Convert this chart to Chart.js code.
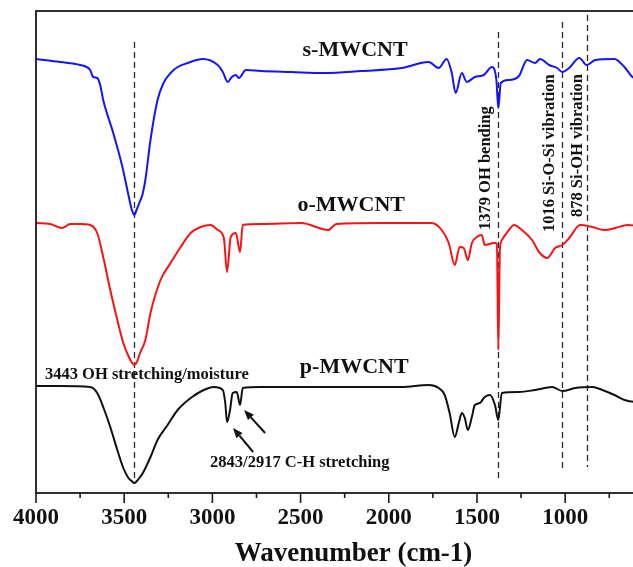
<!DOCTYPE html>
<html>
<head>
<meta charset="utf-8">
<title>FTIR spectra of MWCNT samples</title>
<script src="https://cdn.jsdelivr.net/npm/chart.js@4.4.1/dist/chart.umd.min.js"></script>
<style>
  html, body { margin: 0; padding: 0; background: #fff; overflow: hidden; }
  #wrap { width: 633px; height: 567px; overflow: hidden; }
</style>
</head>
<body>
<div id="wrap"><canvas id="ftir" width="690" height="567"></canvas></div>
<script>
// ---- spectra (wavenumber in cm-1, transmittance in arbitrary units, offset per sample) ----
const sWave = [4000, 3863, 3750, 3693, 3676, 3653, 3636, 3619, 3562, 3510,
               3476, 3458, 3443, 3430, 3410, 3397, 3380, 3351, 3311, 3277, 3237, 3197,
               3140, 3055, 2970, 2941, 2913, 2890, 2867, 2850, 2810, 2725,
               2554, 2366, 2156, 1928, 1774, 1717, 1672, 1643, 1621, 1586,
               1558, 1512, 1461, 1416, 1390, 1379, 1365, 1319, 1262, 1216,
               1171, 1142, 1091, 1046, 1016, 977, 920, 878, 829, 721,
               664, 619, 560, 402];
const sTrans = [434, 431, 428, 423, 416, 415, 408, 393, 360, 326,
                298, 284, 278, 283, 292, 298, 313, 353, 393, 410, 420, 426,
                430, 434, 428, 421, 411, 416, 418, 415, 423, 422,
                421, 420, 422, 425, 431, 425, 434, 420, 400, 420,
                411, 416, 418, 426, 413, 385, 410, 413, 417, 433,
                430, 434, 428, 425, 421, 425, 435, 428, 433, 434,
                426, 416, 411, 403];

const oWave = [4000, 3920, 3852, 3806, 3750, 3693, 3653, 3619, 3579, 3539,
               3505, 3476, 3458, 3443, 3428, 3410, 3380, 3351, 3294, 3237, 3180, 3123,
               3066, 3010, 2970, 2935, 2917, 2896, 2867, 2843, 2828, 2725,
               2497, 2343, 2298, 2042, 1757, 1700, 1660, 1626, 1598, 1575,
               1552, 1529, 1501, 1473, 1456, 1404, 1387, 1379, 1370, 1359,
               1319, 1290, 1245, 1188, 1148, 1102, 1057, 1016, 977, 915,
               846, 778, 715, 647, 560, 402];
const oTrans = [270, 269, 265, 269, 269, 268, 260, 236, 203, 173,
                150, 137, 131, 128, 131, 140, 153, 180, 213, 230, 246, 260,
                266, 268, 263, 255, 221, 256, 260, 241, 268, 269,
                270, 263, 269, 270, 270, 263, 250, 228, 246, 245,
                233, 250, 256, 258, 248, 250, 249, 143, 243, 253,
                263, 268, 263, 253, 241, 235, 245, 248, 255, 268,
                266, 263, 265, 268, 267, 267];

const pWave = [4000, 3863, 3693, 3653, 3619, 3579, 3539, 3505, 3476, 3458, 3443,
               3428, 3410, 3391, 3351, 3311, 3254, 3197, 3123, 3049, 2992, 2941,
               2927, 2917, 2900, 2885, 2862, 2843, 2828, 2725, 2383, 1928,
               1774, 1717, 1683, 1655, 1626, 1603, 1586, 1569, 1552, 1529,
               1512, 1484, 1456, 1427, 1398, 1379, 1359, 1262, 1171, 1074,
               1016, 943, 846, 789, 721, 664, 602, 402];
const pTrans = [107, 107, 106, 100, 86, 66, 43, 25, 15, 12, 10,
                12, 16, 21, 36, 53, 68, 83, 95, 103, 106, 103,
                90, 71, 83, 100, 101, 88, 105, 106, 106, 106,
                108, 105, 98, 80, 56, 70, 80, 75, 63, 76,
                88, 90, 96, 98, 88, 73, 100, 101, 103, 106,
                102, 105, 106, 103, 98, 93, 91, 90];

// axis ticks every 250 cm-1, labelled every 500
const tickValues = [4000, 3750, 3500, 3250, 3000, 2750, 2500, 2250, 2000,
                    1750, 1500, 1250, 1000, 750, 500];

// assigned bands: dashed guide lines
const bandWave = [3443, 1379, 1016, 878];

// ---- annotation layout (x in cm-1, y in a.u.) ----
const SERIF = "'Liberation Serif', 'Times New Roman', serif";
const bandGuides = [
  { wn: bandWave[0], from: 451, to: 10 },
  { wn: bandWave[1], from: 461, to: 13 },
  { wn: bandWave[2], from: 471, to: 21 },
  { wn: bandWave[3], from: 478, to: 26 }
];
const sampleNames = [
  { text: 's-MWCNT', wn: 2191, y: 443 },
  { text: 'o-MWCNT', wn: 2213, y: 288 },
  { text: 'p-MWCNT', wn: 2196, y: 126 }
];
const flatNotes = [
  { text: '3443 OH stretching/moisture', wn: 3949, y: 118 },
  { text: '2843/2917 C-H stretching', wn: 3013, y: 30 }
];
const upNotes = [
  { text: '1379 OH bending', wn: 1453, y: 263 },
  { text: '1016 Si-O-Si vibration', wn: 1085, y: 261 },
  { text: '878 Si-OH vibration', wn: 926, y: 276 }
];
const arrows = [
  { x0: 2769, y0: 41, x1: 2883, y1: 65 },
  { x0: 2701, y0: 60, x1: 2820, y1: 83 }
];

function toPoints(wave, vals) {
  return wave.map((w, i) => ({ x: w, y: vals[i] }));
}

const ftirDecor = {
  id: 'ftirDecor',
  beforeDatasetsDraw(chart) {
    const { ctx, scales: { x, y } } = chart;
    ctx.save();
    ctx.strokeStyle = '#2a2a2a';
    ctx.lineWidth = 1.3;
    ctx.setLineDash([6, 4]);
    bandGuides.forEach(g => {
      const px = Math.round(x.getPixelForValue(g.wn)) + 0.5;
      ctx.beginPath();
      ctx.moveTo(px, y.getPixelForValue(g.from));
      ctx.lineTo(px, y.getPixelForValue(g.to));
      ctx.stroke();
    });
    ctx.restore();
  },
  afterDraw(chart) {
    const { ctx, chartArea: a, scales: { x, y } } = chart;
    ctx.save();

    // frame + outward tick marks
    ctx.strokeStyle = '#1a1a1a';
    ctx.lineWidth = 1.8;
    ctx.strokeRect(a.left, a.top, a.right - a.left, a.bottom - a.top);
    ctx.lineWidth = 1.6;
    tickValues.forEach(v => {
      const px = x.getPixelForValue(v);
      const len = v % 500 === 0 ? 10 : 5;
      ctx.beginPath();
      ctx.moveTo(px, a.bottom);
      ctx.lineTo(px, a.bottom + len);
      ctx.stroke();
    });

    ctx.fillStyle = '#111';
    ctx.textBaseline = 'middle';

    ctx.font = 'bold 22px ' + SERIF;
    ctx.textAlign = 'center';
    sampleNames.forEach(n => ctx.fillText(n.text, x.getPixelForValue(n.wn), y.getPixelForValue(n.y)));

    ctx.font = 'bold 16.5px ' + SERIF;
    ctx.textAlign = 'left';
    flatNotes.forEach(n => ctx.fillText(n.text, x.getPixelForValue(n.wn), y.getPixelForValue(n.y)));

    upNotes.forEach(n => {
      ctx.save();
      ctx.translate(x.getPixelForValue(n.wn), y.getPixelForValue(n.y));
      ctx.rotate(-Math.PI / 2);
      ctx.fillText(n.text, 0, 0);
      ctx.restore();
    });

    // arrows pointing at the C-H doublet
    ctx.strokeStyle = '#111';
    ctx.lineWidth = 2;
    arrows.forEach(ar => {
      const x0 = x.getPixelForValue(ar.x0), y0 = y.getPixelForValue(ar.y0);
      const x1 = x.getPixelForValue(ar.x1), y1 = y.getPixelForValue(ar.y1);
      const ang = Math.atan2(y1 - y0, x1 - x0);
      const head = 10, half = 4;
      const bx = x1 - head * Math.cos(ang), by = y1 - head * Math.sin(ang);
      ctx.beginPath();
      ctx.moveTo(x0, y0);
      ctx.lineTo(bx, by);
      ctx.stroke();
      ctx.beginPath();
      ctx.moveTo(x1, y1);
      ctx.lineTo(bx + half * Math.sin(ang), by - half * Math.cos(ang));
      ctx.lineTo(bx - half * Math.sin(ang), by + half * Math.cos(ang));
      ctx.closePath();
      ctx.fill();
    });

    ctx.restore();
  }
};

new Chart(document.getElementById('ftir').getContext('2d'), {
  type: 'line',
  data: {
    datasets: [
      { label: 's-MWCNT', data: toPoints(sWave, sTrans), borderColor: '#1414f5' },
      { label: 'o-MWCNT', data: toPoints(oWave, oTrans), borderColor: '#f51414' },
      { label: 'p-MWCNT', data: toPoints(pWave, pTrans), borderColor: '#111111' }
    ]
  },
  options: {
    responsive: false,
    animation: false,
    devicePixelRatio: 1,
    layout: { padding: { left: 36, top: 11, right: 19, bottom: 0 } },
    elements: {
      point: { radius: 0 },
      line: { cubicInterpolationMode: 'monotone', borderWidth: 2, fill: false }
    },
    plugins: { legend: { display: false }, tooltip: { enabled: false } },
    scales: {
      x: {
        type: 'linear',
        reverse: true,
        min: 400,
        max: 4000,
        afterBuildTicks: s => { s.ticks = tickValues.map(v => ({ value: v })); },
        afterFit: s => { s.height = 74; },
        grid: { display: true, drawOnChartArea: false, drawTicks: true, tickLength: 10, color: 'rgba(0,0,0,0)' },
        border: { display: false },
        ticks: {
          autoSkip: false,
          maxRotation: 0,
          padding: 1,
          color: '#111',
          font: { family: SERIF, size: 23, weight: 'bold' },
          callback: v => (v % 500 === 0 && v >= 1000) ? String(v) : ''
        },
        title: {
          display: true,
          text: 'Wavenumber (cm-1)',
          color: '#111',
          font: { family: SERIF, size: 27, weight: 'bold' },
          padding: { top: 0, bottom: -3 }
        }
      },
      y: { display: false, min: 0, max: 482 }
    }
  },
  plugins: [ftirDecor]
});
</script>
</body>
</html>
